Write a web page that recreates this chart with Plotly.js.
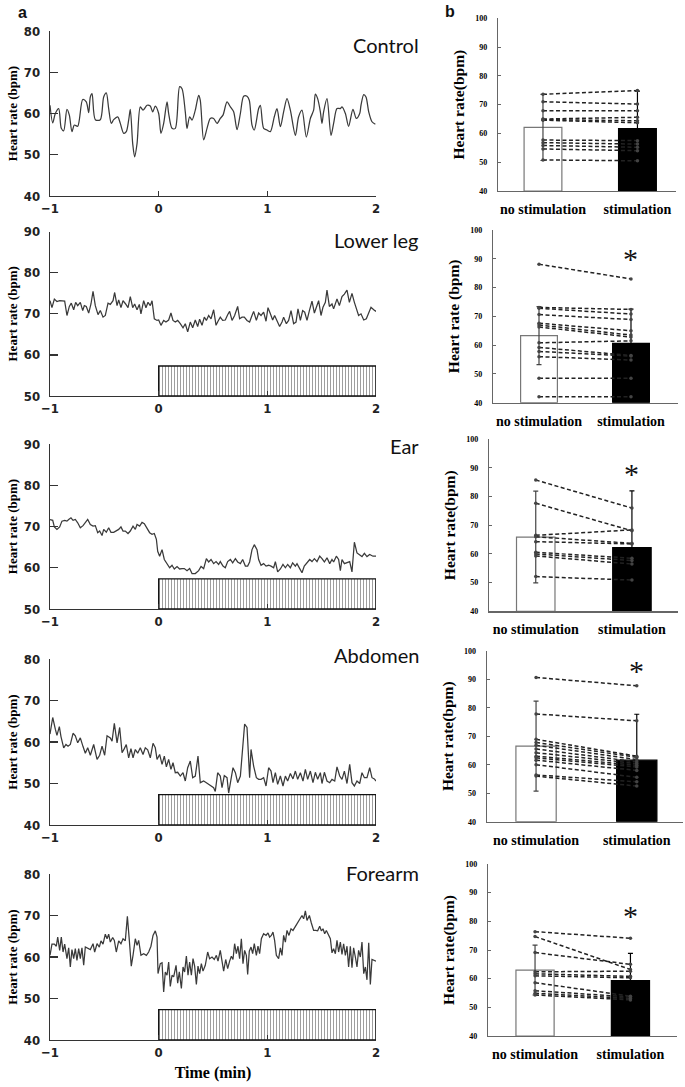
<!DOCTYPE html>
<html><head><meta charset="utf-8">
<script src="https://cdn.plot.ly/plotly-3.0.1.min.js"></script>
<style>html,body{margin:0;padding:0;background:#fff}#chart{width:685px;height:1087px}</style>
</head><body><div id="chart"></div><script>
// ---------- Panel a: time series (time in min, heart rate in bpm) ----------
const panelNames = ['Control', 'Lower leg', 'Ear', 'Abdomen', 'Forearm'];
const panelYRange = [[40, 80], [50, 90], [50, 90], [40, 80], [40, 80]];
const timeTicks = [-1, 0, 1, 2];

const controlTime = [
 -1.0,-0.975,-0.951,-0.920,-0.896,-0.874,-0.844,-0.822,-0.798,-0.776,
 -0.745,-0.699,-0.666,-0.644,-0.629,-0.613,-0.583,-0.537,-0.506,-0.482,
 -0.460,-0.436,-0.414,-0.377,-0.353,-0.322,-0.298,-0.276,-0.261,-0.239,
 -0.221,-0.199,-0.169,-0.144,-0.107,-0.077,-0.055,-0.031,0,0.021,
 0.046,0.077,0.092,0.123,0.153,0.193,0.215,0.245,0.261,0.285,
 0.307,0.337,0.368,0.383,0.414,0.445,0.475,0.506,0.537,0.567,
 0.592,0.629,0.660,0.690,0.721,0.752,0.782,0.813,0.834,0.859,
 0.880,0.920,0.936,0.966,0.997,1.028,1.064,1.089,1.120,1.150,
 1.181,1.212,1.258,1.288,1.319,1.359,1.396,1.426,1.442,1.463,
 1.488,1.503,1.518,1.549,1.586,1.610,1.641,1.672,1.687,1.718,
 1.748,1.788,1.819,1.850,1.862,1.887,1.908,1.933,1.963,1.994];
const controlHR = [
 62.0,57.7,60.0,61.2,56.4,55.8,61.0,59.6,55.6,57.2,
 56.9,63.4,62.8,60.2,64.0,64.8,58.5,58.5,64.0,65.0,
 61.2,57.6,58.5,59.2,57.6,55.2,55.6,58.4,61.0,52.7,
 49.5,52.7,61.6,60.8,62.0,61.8,60.4,61.8,60.0,55.2,
 57.6,62.8,60.0,56.4,56.4,66.5,66.0,60.4,56.4,59.2,
 58.4,60.8,64.4,63.2,53.6,56.4,58.8,58.8,57.6,58.8,
 59.6,62.8,61.6,60.4,56.1,60.0,64.2,64.2,63.2,57.2,
 56.0,61.2,62.0,56.4,56.0,55.6,59.2,61.2,56.8,60.4,
 63.6,60.8,54.7,59.2,60.8,54.3,58.8,60.8,64.7,63.6,
 60.4,57.6,60.4,63.6,54.7,57.6,61.2,61.2,61.6,60.0,
 56.9,61.0,58.8,60.0,62.0,64.6,64.0,60.4,58.0,57.4];

const lowerLegTime = [
 -1.0,-0.982,-0.960,-0.936,-0.911,-0.890,-0.865,-0.844,-0.822,-0.804,
 -0.782,-0.764,-0.745,-0.721,-0.699,-0.684,-0.666,-0.644,-0.623,-0.604,
 -0.583,-0.558,-0.537,-0.512,-0.491,-0.466,-0.445,-0.420,-0.405,-0.383,
 -0.368,-0.347,-0.328,-0.304,-0.282,-0.261,-0.239,-0.221,-0.199,-0.178,
 -0.163,-0.138,-0.117,-0.098,-0.077,-0.061,-0.040,-0.015,0,0.021,
 0.046,0.067,0.092,0.113,0.132,0.153,0.175,0.199,0.224,0.245,
 0.267,0.291,0.313,0.337,0.359,0.377,0.399,0.420,0.439,0.460,
 0.482,0.506,0.528,0.546,0.567,0.589,0.613,0.635,0.653,0.675,
 0.699,0.727,0.745,0.767,0.788,0.813,0.837,0.859,0.874,0.899,
 0.920,0.942,0.966,0.988,1.006,1.028,1.049,1.067,1.089,1.113,
 1.135,1.150,1.175,1.196,1.218,1.242,1.264,1.282,1.304,1.325,
 1.344,1.365,1.387,1.411,1.433,1.451,1.472,1.494,1.512,1.534,
 1.549,1.571,1.595,1.610,1.641,1.663,1.687,1.709,1.733,1.755,
 1.779,1.801,1.819,1.840,1.862,1.887,1.911,1.933,1.954,1.979,
 2.0];
const lowerLegHR = [
 73.2,71.5,73.6,73.0,73.2,73.1,73.1,69.6,71.8,72.6,
 71.0,72.8,72.0,72.8,70.8,72.0,71.8,70.2,72.4,75.5,
 72.0,69.8,70.8,69.2,69.6,72.6,72.3,73.2,75.2,72.0,
 73.4,71.5,73.2,72.4,71.5,74.2,71.5,72.4,71.0,72.3,
 70.0,73.2,71.5,72.8,72.0,73.2,68.8,68.4,68.5,67.2,
 68.4,68.0,68.5,70.2,68.4,68.0,68.4,67.6,66.6,67.6,
 65.6,68.0,66.6,68.5,66.9,68.7,67.2,69.2,68.4,69.6,
 68.8,71.0,67.2,68.2,69.2,68.4,68.5,69.8,70.6,68.4,
 69.6,71.8,68.8,69.2,69.2,68.4,68.0,69.6,70.6,68.4,
 70.2,69.6,70.4,68.2,71.5,70.0,68.5,69.6,68.4,66.9,
 68.0,69.2,67.6,68.4,70.8,67.6,68.0,71.2,68.4,70.8,
 70.4,68.4,70.8,73.1,70.2,71.6,73.2,69.6,71.6,72.8,
 75.8,71.8,72.4,71.2,73.6,72.0,74.2,74.8,75.8,72.8,
 75.0,72.8,71.2,69.6,70.0,68.5,68.8,70.2,71.6,71.0,
 70.6];

const earTime = [
 -1.0,-0.975,-0.960,-0.936,-0.911,-0.890,-0.865,-0.844,-0.828,-0.807,
 -0.788,-0.767,-0.745,-0.721,-0.696,-0.675,-0.653,-0.629,-0.604,-0.583,
 -0.561,-0.543,-0.521,-0.506,-0.482,-0.460,-0.439,-0.414,-0.390,-0.368,
 -0.347,-0.328,-0.307,-0.282,-0.261,-0.236,-0.215,-0.199,-0.175,-0.153,
 -0.132,-0.107,-0.083,-0.061,-0.040,-0.021,-0.009,0.009,0.031,0.052,
 0.077,0.101,0.123,0.144,0.169,0.193,0.215,0.236,0.261,0.285,
 0.307,0.337,0.368,0.390,0.414,0.439,0.460,0.482,0.506,0.528,
 0.552,0.567,0.592,0.613,0.635,0.660,0.681,0.706,0.727,0.752,
 0.773,0.798,0.819,0.837,0.859,0.880,0.905,0.920,0.942,0.966,
 0.988,1.012,1.034,1.058,1.074,1.095,1.120,1.144,1.166,1.187,
 1.212,1.233,1.258,1.273,1.298,1.319,1.340,1.365,1.390,1.411,
 1.433,1.457,1.482,1.503,1.525,1.549,1.574,1.595,1.610,1.635,
 1.656,1.672,1.687,1.709,1.733,1.758,1.779,1.801,1.825,1.850,
 1.871,1.893,1.917,1.942,1.972,2.0];
const earHR = [
 71.7,71.5,69.9,69.3,69.9,71.3,71.5,71.3,71.7,72.1,
 71.5,71.7,70.9,69.7,70.2,70.9,71.7,70.5,70.1,70.2,
 68.5,68.9,67.8,69.3,68.6,69.7,68.6,68.6,68.9,69.3,
 69.9,68.9,68.9,68.3,68.9,70.1,69.3,70.5,70.1,71.0,
 70.7,69.7,68.5,68.1,68.3,66.9,64.0,62.8,64.4,62.0,
 60.8,60.0,60.6,59.7,60.3,59.7,59.8,59.8,59.3,59.8,
 58.6,58.6,59.3,60.3,59.8,62.2,61.4,62.0,61.0,61.5,
 60.8,61.5,60.4,60.0,61.5,62.0,61.2,62.2,61.4,61.0,
 62.0,60.4,60.4,61.4,64.4,65.6,64.4,62.0,60.6,61.0,
 60.4,60.6,60.4,60.0,61.5,59.0,59.7,60.8,60.0,60.8,
 60.0,61.2,60.4,61.0,59.8,58.8,60.4,61.2,62.0,61.5,
 62.2,61.5,62.8,62.2,61.4,62.4,61.0,62.0,61.4,62.8,
 62.0,59.3,62.0,61.0,61.2,61.5,59.0,66.2,63.6,63.2,
 62.7,63.5,62.7,63.2,62.8,62.8];

const abdomenTime = [
 -1.0,-0.975,-0.951,-0.936,-0.914,-0.899,-0.874,-0.853,-0.834,-0.813,
 -0.788,-0.767,-0.745,-0.721,-0.696,-0.675,-0.653,-0.629,-0.598,-0.567,
 -0.543,-0.521,-0.497,-0.475,-0.445,-0.429,-0.408,-0.383,-0.359,-0.337,
 -0.316,-0.298,-0.276,-0.255,-0.236,-0.215,-0.193,-0.169,-0.144,-0.123,
 -0.101,-0.077,-0.052,-0.031,-0.015,0.009,0.031,0.052,0.071,0.092,
 0.113,0.132,0.153,0.175,0.199,0.224,0.245,0.267,0.291,0.313,
 0.337,0.362,0.383,0.414,0.439,0.460,0.482,0.506,0.521,0.543,
 0.567,0.583,0.604,0.629,0.644,0.666,0.684,0.706,0.727,0.752,
 0.776,0.791,0.813,0.828,0.837,0.850,0.874,0.899,0.920,0.942,
 0.966,0.988,1.012,1.034,1.052,1.074,1.095,1.120,1.144,1.166,
 1.187,1.212,1.236,1.258,1.279,1.304,1.328,1.350,1.371,1.396,
 1.420,1.442,1.463,1.488,1.503,1.525,1.549,1.574,1.595,1.620,
 1.641,1.666,1.687,1.709,1.733,1.758,1.779,1.801,1.825,1.850,
 1.871,1.893,1.917,1.942,1.963,1.985,2.0];
const abdomenHR = [
 61.9,65.9,63.1,61.6,63.7,61.3,58.6,59.4,59.0,59.4,
 62.1,61.5,59.8,61.0,58.9,57.3,58.6,56.8,59.4,55.8,
 56.8,59.0,56.8,61.5,61.0,60.2,64.5,59.8,63.5,57.4,
 58.4,59.4,56.2,58.4,56.2,58.2,57.3,58.6,57.0,58.6,
 58.1,56.2,59.7,58.6,55.8,57.0,54.6,56.6,54.0,55.8,
 53.4,55.0,52.6,52.7,51.8,52.6,50.6,53.8,55.4,51.4,
 51.8,56.6,50.2,50.6,50.2,49.8,49.4,49.0,48.1,52.6,
 51.8,49.0,51.9,51.4,47.7,50.6,53.8,52.6,50.2,51.8,
 60.6,64.3,63.5,55.0,51.4,58.2,54.2,51.4,51.0,51.0,
 51.4,49.4,53.8,53.0,50.2,52.6,49.8,51.8,49.4,51.8,
 50.6,52.4,51.1,53.0,51.0,52.6,50.6,53.4,51.0,53.0,
 50.2,52.7,51.0,52.6,50.0,52.7,50.6,50.2,51.0,50.6,
 54.0,51.8,51.0,53.0,50.0,54.6,50.2,49.4,50.6,50.0,
 52.6,51.4,51.4,53.8,51.4,51.1,50.6];

const forearmTime = [
 -1.0,-0.982,-0.960,-0.942,-0.929,-0.911,-0.896,-0.880,-0.865,-0.844,
 -0.828,-0.813,-0.798,-0.782,-0.767,-0.752,-0.736,-0.721,-0.706,-0.690,
 -0.675,-0.653,-0.629,-0.604,-0.589,-0.567,-0.546,-0.531,-0.512,-0.491,
 -0.475,-0.460,-0.445,-0.423,-0.408,-0.390,-0.368,-0.347,-0.328,-0.307,
 -0.288,-0.270,-0.252,-0.236,-0.215,-0.199,-0.184,-0.163,-0.138,-0.113,
 -0.092,-0.071,-0.052,-0.031,-0.015,-0.006,0.015,0.031,0.046,0.061,
 0.077,0.092,0.107,0.123,0.138,0.160,0.175,0.190,0.209,0.224,
 0.239,0.255,0.270,0.285,0.301,0.316,0.331,0.347,0.362,0.377,
 0.393,0.408,0.429,0.451,0.469,0.491,0.512,0.531,0.546,0.567,
 0.583,0.598,0.617,0.635,0.653,0.669,0.684,0.699,0.715,0.730,
 0.745,0.761,0.776,0.791,0.807,0.819,0.834,0.850,0.865,0.880,
 0.899,0.914,0.929,0.945,0.966,0.988,1.006,1.021,1.037,1.052,
 1.067,1.083,1.104,1.120,1.135,1.150,1.166,1.181,1.199,1.218,
 1.236,1.258,1.279,1.298,1.319,1.334,1.350,1.365,1.387,1.405,
 1.426,1.445,1.463,1.482,1.497,1.512,1.528,1.543,1.564,1.580,
 1.595,1.610,1.626,1.641,1.656,1.672,1.687,1.702,1.718,1.733,
 1.748,1.764,1.779,1.794,1.810,1.825,1.840,1.856,1.871,1.887,
 1.902,1.917,1.933,1.948,1.963,1.979,2.0];
const forearmHR = [
 60.4,63.1,63.1,62.6,64.8,61.6,64.8,61.2,63.1,59.6,
 62.2,57.6,61.8,59.6,62.0,59.2,62.0,59.6,62.2,58.0,
 62.4,62.2,61.8,63.2,61.2,63.2,62.4,63.9,63.1,65.5,
 64.4,65.5,63.6,64.7,64.0,61.2,63.9,63.2,64.4,63.9,
 69.8,64.0,57.8,60.4,64.4,62.8,64.0,60.4,60.8,60.4,
 61.2,62.6,65.2,66.3,64.8,56.0,58.4,58.6,51.6,56.4,
 55.6,58.8,52.9,55.6,55.2,58.0,53.7,56.4,52.4,57.6,
 56.4,60.2,55.6,58.8,55.6,59.6,57.8,53.4,57.8,56.0,
 58.4,56.6,58.0,61.2,59.6,60.0,59.4,60.4,59.0,61.6,
 59.2,56.6,59.4,57.2,59.0,60.2,59.4,63.2,60.8,62.6,
 59.6,64.4,58.4,61.6,60.4,55.8,61.4,62.4,60.8,63.2,
 60.4,62.6,60.8,64.4,65.6,65.2,65.8,64.8,65.2,66.0,
 64.0,60.4,59.6,62.2,60.4,65.2,63.6,66.4,65.2,66.8,
 66.4,67.4,68.4,69.0,70.0,69.2,71.1,68.8,70.0,68.2,
 66.4,66.4,66.3,67.4,66.3,66.8,65.6,66.4,65.0,64.4,
 61.0,62.0,60.8,64.0,61.2,63.6,60.6,63.2,60.4,62.6,
 57.6,62.6,57.4,62.2,60.0,57.6,61.6,60.0,63.6,56.0,
 57.6,54.5,63.4,53.4,59.4,59.2,59.0];

const seriesTime = [controlTime, lowerLegTime, earTime, abdomenTime, forearmTime];
const seriesHR = [controlHR, lowerLegHR, earHR, abdomenHR, forearmHR];

// stimulation period (min) and the level of the stimulation marker bar (bpm)
const stimStart = [null, 0, 0, 0, 0];
const stimEnd = [null, 2, 2, 2, 2];
const stimBase = [null, 50, 50, 40, 40];
const stimTop = [null, 57.3, 57.3, 47.3, 47.3];

// ---------- Panel b: paired subjects (bpm) ----------
const condLabels = ['no stimulation', 'stimulation'];
const ctrlNo = [73.6, 71.0, 67.9, 65.0, 64.8, 64.6, 57.7, 56.8, 55.8, 54.6, 50.8];
const ctrlSt = [74.9, 70.2, 67.9, 65.6, 64.4, 63.7, 57.5, 56.3, 55.2, 54.0, 50.5];
const lowerNo = [88.1, 73.1, 72.8, 70.6, 67.6, 67.0, 66.3, 60.8, 59.2, 57.8, 56.0, 48.5, 42.1];
const lowerSt = [83.0, 72.4, 70.8, 68.9, 65.0, 63.5, 62.8, 61.5, 56.4, 56.2, 54.8, 48.5, 42.1];
const earNo = [85.8, 77.7, 66.5, 66.0, 64.3, 60.6, 60.0, 59.3, 52.1];
const earSt = [76.0, 68.1, 68.4, 63.7, 63.5, 58.5, 57.7, 56.5, 50.9];
const abdNo = [90.6, 77.8, 68.9, 67.8, 66.8, 65.5, 64.2, 63.0, 62.4, 61.6, 60.0, 56.4, 56.0];
const abdSt = [87.7, 75.4, 63.0, 62.6, 61.8, 61.0, 60.4, 59.8, 59.2, 58.0, 55.6, 54.0, 52.5];
const foreNo = [76.4, 74.7, 69.1, 62.4, 61.7, 61.0, 58.6, 55.8, 54.9, 54.3];
const foreSt = [74.1, 63.2, 65.0, 62.6, 60.8, 60.3, 53.9, 53.6, 53.1, 52.6];
const pairNo = [ctrlNo, lowerNo, earNo, abdNo, foreNo];
const pairSt = [ctrlSt, lowerSt, earSt, abdSt, foreSt];
const meanNo = [62.1, 63.3, 65.9, 66.5, 63.0];
const meanSt = [61.7, 60.6, 62.2, 61.6, 59.3];
const sdNo = [11.5, 10.1, 16.0, 15.8, 8.7];
const sdSt = [13.0, 11.9, 19.8, 16.1, 9.5];
const significant = [false, true, true, true, true];
const asteriskY = [null, 90, 88, 93, 82];
const barBottom = 40;

// ---------- layout geometry (pixels) ----------
const W = 685, H = 1087;
const leftBox = [[50,376,31,196],[50,376,231.7,396],[50,376,444,609],[50,376,659,825],[50,376,874,1040]];
const rightBox = [[498,676,18.3,191],[493,678,230,402.7],[489,678,439.3,611.3],[486.7,683,650.7,821.7],[488,677,864,1036]];
const rightXRange = [[-0.476,1.408],[-0.5,1.511],[-0.486,1.479],[-0.49,1.459],[-0.493,1.488]];
const titlePos = [45, 240, 446, 655, 873];

const dx = b => [b[0]/W, b[1]/W];
const dy = b => [1 - b[3]/H, 1 - b[2]/H];

const numFont = {family: '"Liberation Sans Narrow","DejaVu Sans Condensed",sans-serif', size: 13, color: '#222', weight: 'bold'};
const serifBold = (s) => ({family: '"Liberation Serif","Times New Roman",serif', size: s, color: '#000', weight: 'bold'});

const traces = [];
const layout = {
  width: W, height: H, margin: {l: 0, r: 0, t: 0, b: 0},
  paper_bgcolor: '#fff', plot_bgcolor: 'rgba(0,0,0,0)', showlegend: false,
  barmode: 'overlay', annotations: []
};

for (let i = 0; i < 5; i++) {
  const n = i + 1;
  const xk = 'xaxis' + (n === 1 ? '' : n), yk = 'yaxis' + (n === 1 ? '' : n);
  const xr = 'x' + (n === 1 ? '' : n), yr = 'y' + (n === 1 ? '' : n);
  if (stimStart[i] !== null) {
    traces.push({
      type: 'bar', xaxis: xr, yaxis: yr,
      x: [(stimStart[i] + stimEnd[i]) / 2], width: [stimEnd[i] - stimStart[i]],
      base: [stimBase[i]], y: [stimTop[i] - stimBase[i]],
      marker: {color: '#fff', line: {color: '#111', width: 1.3},
        pattern: {shape: '|', size: 3, solidity: 0.32, fgcolor: '#333', fillmode: 'overlay'}},
      hoverinfo: 'skip'
    });
  }
  traces.push({
    type: 'scatter', mode: 'lines', xaxis: xr, yaxis: yr,
    x: seriesTime[i], y: seriesHR[i],
    line: {color: '#3a3a3a', width: 1.25, shape: i === 0 ? 'spline' : 'linear', smoothing: 0.8}
  });
  layout[xk] = {
    domain: dx(leftBox[i]), anchor: yr, range: [-1, 2], tickvals: timeTicks,
    showline: true, linecolor: '#333', linewidth: 1.3, ticks: 'inside', ticklen: 5,
    tickcolor: '#333', tickwidth: 1.2, showgrid: false, zeroline: false, tickfont: numFont
  };
  if (i === 4) layout[xk].title = {text: 'Time (min)', font: serifBold(16), standoff: 8};
  layout[yk] = {
    domain: dy(leftBox[i]), anchor: xr, range: panelYRange[i], dtick: 10,
    showline: true, linecolor: '#333', linewidth: 1.3, ticks: 'inside', ticklen: 8,
    tickcolor: '#333', tickwidth: 1.2, showgrid: false, zeroline: false, tickfont: numFont,
    ticklabelstandoff: 6,
    title: {text: 'Heart rate (bpm)', font: serifBold(13), standoff: 3}
  };
  layout.annotations.push({
    xref: 'paper', yref: 'paper', x: 421 / W, y: 1 - titlePos[i] / H,
    xanchor: 'right', yanchor: 'middle', showarrow: false, text: panelNames[i],
    font: {family: 'Lato, "Open Sans", sans-serif', size: 20, color: '#111'}
  });

  // right panel: no-stimulation bar, stimulation bar, paired subject lines
  const m = i + 6;
  const rxk = 'xaxis' + m, ryk = 'yaxis' + m, rxr = 'x' + m, ryr = 'y' + m;
  traces.push({
    type: 'bar', xaxis: rxr, yaxis: ryr, x: [0], y: [meanNo[i] - barBottom], base: barBottom,
    width: 0.4, marker: {color: '#fff', line: {color: '#777', width: 1.2}},
    error_y: {type: 'data', array: [sdNo[i]], color: '#444', thickness: 1.2, width: 2.5},
    hoverinfo: 'skip'
  });
  traces.push({
    type: 'bar', xaxis: rxr, yaxis: ryr, x: [1], y: [meanSt[i] - barBottom], base: barBottom,
    width: 0.4, marker: {color: '#000', line: {color: '#000', width: 1.2}},
    error_y: {type: 'data', array: [sdSt[i]], color: '#000', thickness: 1.2, width: 2.5},
    hoverinfo: 'skip'
  });
  const px = [], py = [];
  pairNo[i].forEach((v, k) => { px.push(0, 1, null); py.push(v, pairSt[i][k], null); });
  traces.push({
    type: 'scatter', mode: 'lines+markers', xaxis: rxr, yaxis: ryr, x: px, y: py,
    line: {color: '#222', width: 1.5, dash: '4px,2.5px'},
    marker: {size: 3.5, color: '#444'}, connectgaps: false
  });
  layout[rxk] = {
    domain: dx(rightBox[i]), anchor: ryr, range: rightXRange[i], tickvals: [0, 1],
    ticktext: condLabels, showline: true, linecolor: '#666', linewidth: 1.2, ticks: '',
    showgrid: false, zeroline: false, tickfont: serifBold(14), ticklabelstandoff: 5
  };
  layout[ryk] = {
    domain: dy(rightBox[i]), anchor: rxr, range: [40, 100], dtick: 10,
    showline: true, linecolor: '#666', linewidth: 1.2, ticks: 'inside', ticklen: 3,
    tickcolor: '#666', showgrid: false, zeroline: false, tickfont: serifBold(8),
    ticklabelstandoff: 8,
    title: {text: i === 1 ? 'Heart rate (bpm)' : 'Heart rate(bpm)', font: serifBold(15.5), standoff: 6}
  };
  if (significant[i]) {
    layout.annotations.push({
      xref: rxr, yref: ryr, x: 1, y: asteriskY[i], text: '*', showarrow: false,
      font: {family: '"Liberation Serif", serif', size: 30, color: '#111'}
    });
  }
}

layout.annotations.push(
  {xref: 'paper', yref: 'paper', x: 16 / W, y: 1 - 2 / H, xanchor: 'left', yanchor: 'top',
   showarrow: false, text: '<b>a</b>', font: {family: 'Liberation Sans, Arial, sans-serif', size: 16, color: '#111'}},
  {xref: 'paper', yref: 'paper', x: 443 / W, y: 1 - 1 / H, xanchor: 'left', yanchor: 'top',
   showarrow: false, text: '<b>b</b>', font: {family: 'Liberation Sans, Arial, sans-serif', size: 16, color: '#111'}}
);

Plotly.newPlot('chart', traces, layout, {staticPlot: true, displayModeBar: false});
</script></body></html>
